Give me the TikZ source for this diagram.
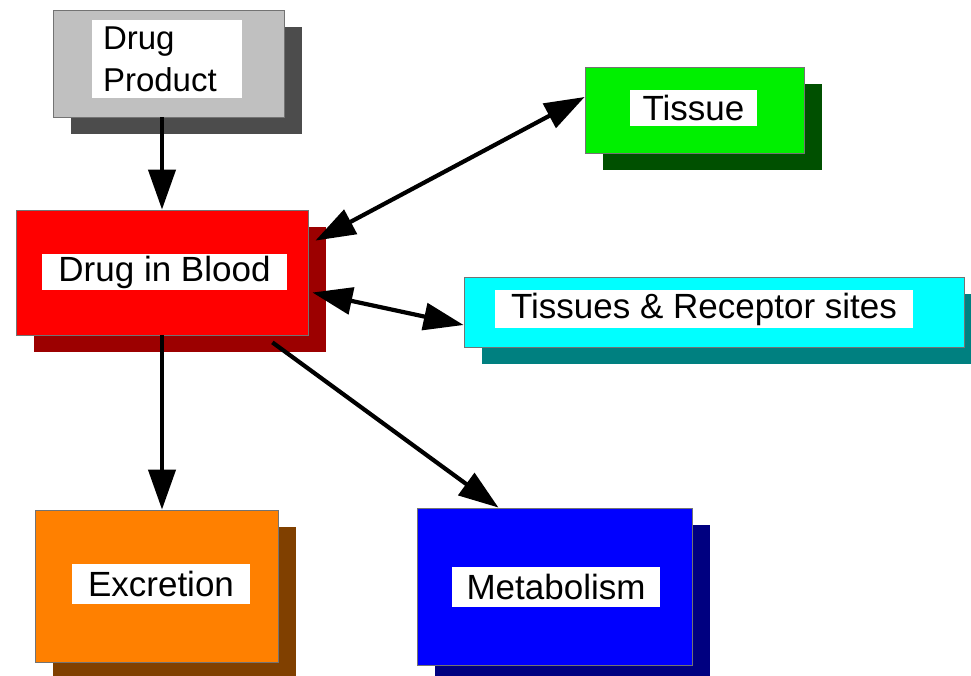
\documentclass[tikz,border=0pt]{standalone}
\usepackage{fontspec}
\setmainfont{Liberation Sans}
\usetikzlibrary{arrows.meta,shadows}
\definecolor{grayM}{HTML}{C0C0C0}
\definecolor{grayS}{HTML}{4C4C4C}
\definecolor{redM}{HTML}{FF0000}
\definecolor{redS}{HTML}{9C0000}
\definecolor{greenM}{HTML}{00F000}
\definecolor{greenS}{HTML}{005000}
\definecolor{cyanM}{HTML}{00FFFF}
\definecolor{cyanS}{HTML}{008080}
\definecolor{orangeM}{HTML}{FF8000}
\definecolor{orangeS}{HTML}{804000}
\definecolor{blueM}{HTML}{0000FF}
\definecolor{blueS}{HTML}{000080}
\tikzset{
  box/.style={draw=black!55, line width=0.8pt, inner sep=0pt},
  shade/.style={drop shadow={shadow xshift=18pt, shadow yshift=-17pt, fill=#1, opacity=1}},
  lab/.style={fill=white, inner sep=0pt, font=\fontsize{35}{42}\selectfont},
  arr/.style={line width=4.2pt, -{Triangle[length=40pt,width=27pt]}},
  darr/.style={line width=4.2pt, {Triangle[length=40pt,width=27pt]}-{Triangle[length=40pt,width=27pt]}}
}
\begin{document}
\begin{tikzpicture}[x=1pt,y=-1pt]
\useasboundingbox[fill=white] (0,0) rectangle (971,675);
% boxes
\node[box, shade=grayS, fill=grayM, minimum width=231pt, minimum height=107pt] (prod) at (168.5,63.5) {};
\node[box, shade=redS, fill=redM, minimum width=292pt, minimum height=125pt] (blood) at (162,272.5) {};
\node[box, shade=greenS, fill=greenM, minimum width=219pt, minimum height=86pt] (tissue) at (694.5,110) {};
\node[box, shade=cyanS, fill=cyanM, minimum width=500pt, minimum height=70pt] (recep) at (714,312) {};
\node[box, shade=orangeS, fill=orangeM, minimum width=243pt, minimum height=152pt] (excr) at (156.5,586) {};
\node[box, shade=blueS, fill=blueM, minimum width=275pt, minimum height=157pt] (meta) at (554.5,586.5) {};
% labels
\node[lab, text width=128pt, inner xsep=11pt, minimum height=78pt, align=left, font=\fontsize{33}{42}\selectfont] (prodlab) at (167,59) {Drug\\Product};
\node[lab, minimum width=245pt, minimum height=36pt] (bloodlab) at (164.5,272) {Drug in Blood};
\node[lab, minimum width=127pt, minimum height=36pt] (tissuelab) at (693.5,108) {Tissue};
\node[lab, minimum width=418pt, minimum height=38pt] (receplab) at (704,309) {Tissues \& Receptor sites};
\node[lab, minimum width=178pt, minimum height=40pt] (excrlab) at (161,584) {Excretion};
\node[lab, minimum width=208pt, minimum height=40pt] (metalab) at (556,587) {Metabolism};
% connectors
\draw[arr] (prod.south -| blood.north) -- (blood.north);
\draw[arr] (blood.south) -- (blood.south |- excr.north);
\draw[darr] ([xshift=7pt,yshift=-31pt]blood.north east) -- ([yshift=13pt]tissue.west);
\draw[darr] ([xshift=4pt,yshift=-20pt]blood.east) -- ([yshift=-13pt]recep.west);
\draw[arr] ([xshift=-36pt,yshift=-7pt]blood.south east) -- ([xshift=-56pt]meta.north);
\end{tikzpicture}
\end{document}
